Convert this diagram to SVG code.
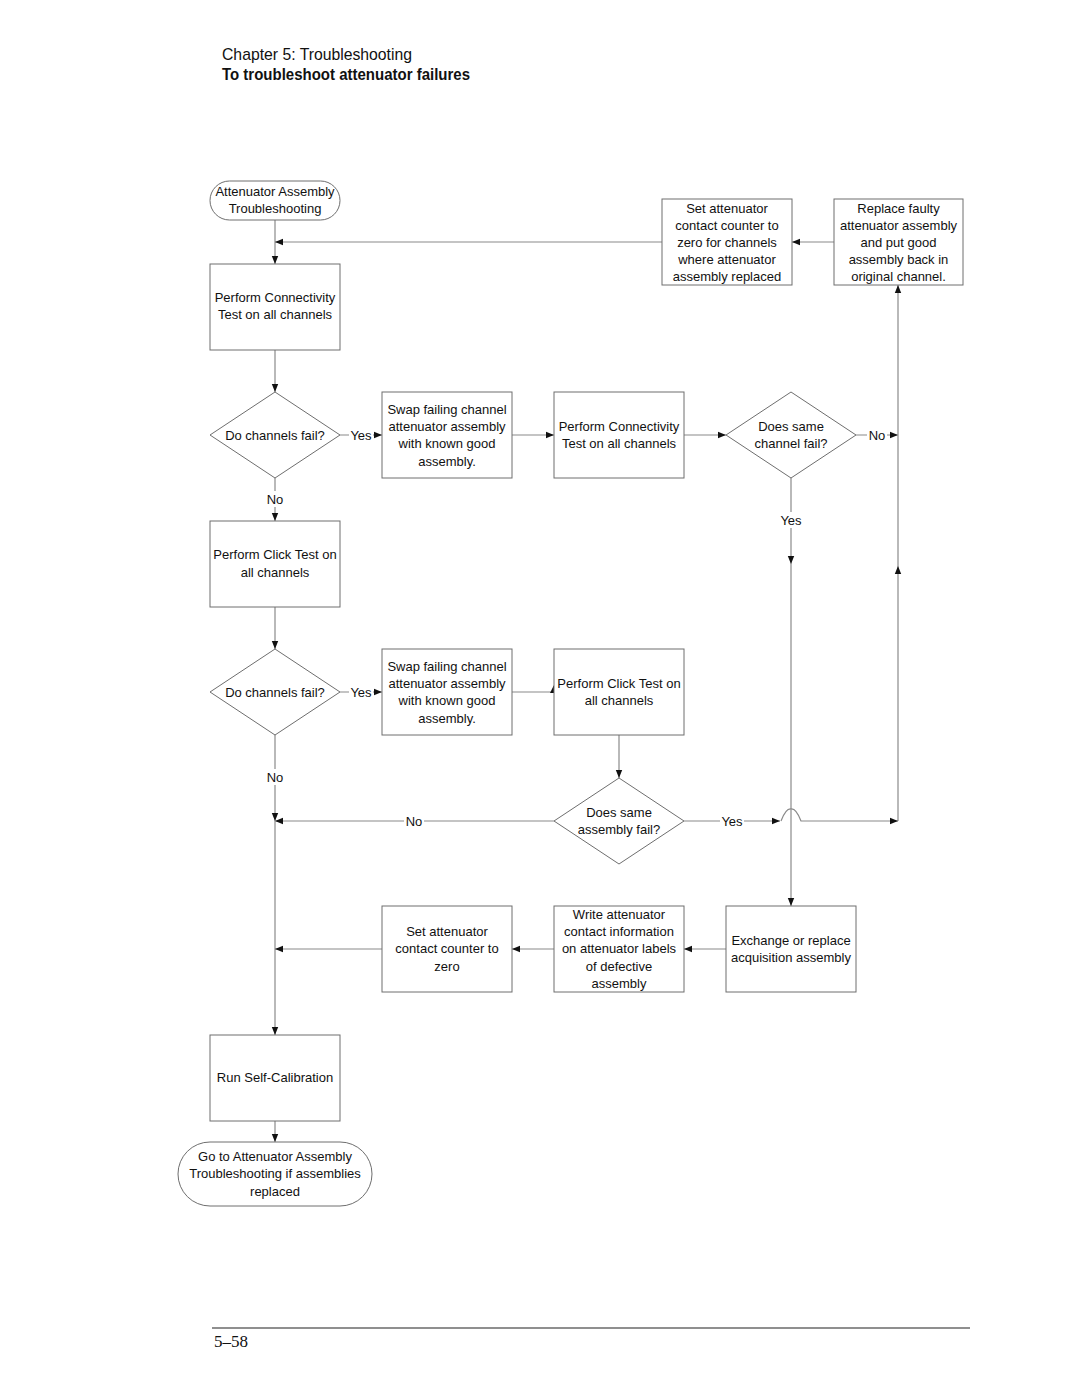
<svg xmlns="http://www.w3.org/2000/svg" width="1080" height="1397" viewBox="0 0 1080 1397">
<style>
.n{fill:#fff;stroke:#6e6e6e;stroke-width:1}
.t{font-family:"Liberation Sans",Arial,sans-serif;font-size:13px;fill:#111;text-anchor:middle}
.c{fill:none;stroke:#8a8a8a;stroke-width:1.2}
.lbl{fill:#fff;stroke:none}
.h{font-family:"Liberation Sans",Arial,sans-serif;font-size:17px;fill:#111}
</style>
<defs>
<marker id="ah" viewBox="0 0 10 10" refX="10" refY="5" markerWidth="8" markerHeight="8" markerUnits="userSpaceOnUse" orient="auto">
<path d="M0,1 L10,5 L0,9 Z" fill="#111"/>
</marker>
</defs>
<rect width="1080" height="1397" fill="#fff"/>
<g id="header">
<text class="h" x="222" y="60" textLength="190" lengthAdjust="spacingAndGlyphs">Chapter 5: Troubleshooting</text>
<text class="h" x="222" y="80" font-weight="bold" textLength="248" lengthAdjust="spacingAndGlyphs">To troubleshoot attenuator failures</text>
</g>
<g id="connectors">
<path class="c" d="M275,220 V264" marker-end="url(#ah)"/>
<path class="c" d="M662,242 H275" marker-end="url(#ah)"/>
<path class="c" d="M834,242 H792" marker-end="url(#ah)"/>
<path class="c" d="M275,350 V392" marker-end="url(#ah)"/>
<path class="c" d="M340,435 H382" marker-end="url(#ah)"/>
<path class="c" d="M512,435 H554" marker-end="url(#ah)"/>
<path class="c" d="M684,435 H726" marker-end="url(#ah)"/>
<path class="c" d="M856,435 H898" marker-end="url(#ah)"/>
<path class="c" d="M898,821 V566" marker-end="url(#ah)"/>
<path class="c" d="M898,566 V285" marker-end="url(#ah)"/>
<path class="c" d="M791,478 V564" marker-end="url(#ah)"/>
<path class="c" d="M791,564 V906" marker-end="url(#ah)"/>
<path class="c" d="M275,478 V521" marker-end="url(#ah)"/>
<path class="c" d="M275,607 V649" marker-end="url(#ah)"/>
<path class="c" d="M340,692 H382" marker-end="url(#ah)"/>
<path class="c" d="M512,692 H554 V686"/>
<path d="M550,693 L554,685 L558,693 Z" fill="#111"/>
<path class="c" d="M619,735 V778" marker-end="url(#ah)"/>
<path class="c" d="M554,821 H275" marker-end="url(#ah)"/>
<path class="c" d="M275,735 V821" marker-end="url(#ah)"/>
<path class="c" d="M275,821 V1035" marker-end="url(#ah)"/>
<path class="c" d="M684,821 H780" marker-end="url(#ah)"/>
<path class="c" d="M781,821 Q786,808 791,809 Q796,808 801,821 H898" marker-end="url(#ah)"/>
<path class="c" d="M726,949 H684" marker-end="url(#ah)"/>
<path class="c" d="M554,949 H512" marker-end="url(#ah)"/>
<path class="c" d="M382,949 H275" marker-end="url(#ah)"/>
<path class="c" d="M275,1121 V1142" marker-end="url(#ah)"/>
<rect class="lbl" x="349" y="427" width="24" height="16"/>
<text class="t" x="361" y="440">Yes</text>
<rect class="lbl" x="867" y="427" width="20" height="16"/>
<text class="t" x="877" y="440">No</text>
<rect class="lbl" x="779" y="512" width="24" height="16"/>
<text class="t" x="791" y="525">Yes</text>
<rect class="lbl" x="265" y="491" width="20" height="16"/>
<text class="t" x="275" y="504">No</text>
<rect class="lbl" x="349" y="684" width="24" height="16"/>
<text class="t" x="361" y="697">Yes</text>
<rect class="lbl" x="265" y="769" width="20" height="16"/>
<text class="t" x="275" y="782">No</text>
<rect class="lbl" x="404" y="813" width="20" height="16"/>
<text class="t" x="414" y="826">No</text>
<rect class="lbl" x="720" y="813" width="24" height="16"/>
<text class="t" x="732" y="826">Yes</text>
</g>
<g id="start">
<rect class="n" x="210" y="181" width="130" height="39" rx="19.5"/>
<text class="t" x="275" y="196">Attenuator Assembly</text>
<text class="t" x="275" y="213">Troubleshooting</text>
</g>
<g id="conn1">
<rect class="n" x="210" y="264" width="130" height="86"/>
<text class="t" x="275" y="302">Perform Connectivity</text>
<text class="t" x="275" y="319">Test on all channels</text>
</g>
<g id="d1">
<polygon class="n" points="275,392 340,435 275,478 210,435"/>
<text class="t" x="275" y="440">Do channels fail?</text>
</g>
<g id="swap1">
<rect class="n" x="382" y="392" width="130" height="86"/>
<text class="t" x="447" y="414">Swap failing channel</text>
<text class="t" x="447" y="431">attenuator assembly</text>
<text class="t" x="447" y="448">with known good</text>
<text class="t" x="447" y="466">assembly.</text>
</g>
<g id="conn2">
<rect class="n" x="554" y="392" width="130" height="86"/>
<text class="t" x="619" y="431">Perform Connectivity</text>
<text class="t" x="619" y="448">Test on all channels</text>
</g>
<g id="d2">
<polygon class="n" points="791,392 856,435 791,478 726,435"/>
<text class="t" x="791" y="431">Does same</text>
<text class="t" x="791" y="448">channel fail?</text>
</g>
<g id="setcounter1">
<rect class="n" x="662" y="199" width="130" height="86"/>
<text class="t" x="727" y="213">Set attenuator</text>
<text class="t" x="727" y="230">contact counter to</text>
<text class="t" x="727" y="247">zero for channels</text>
<text class="t" x="727" y="264">where attenuator</text>
<text class="t" x="727" y="281">assembly replaced</text>
</g>
<g id="replace">
<rect class="n" x="834" y="199" width="129" height="86"/>
<text class="t" x="898.5" y="213">Replace faulty</text>
<text class="t" x="898.5" y="230">attenuator assembly</text>
<text class="t" x="898.5" y="247">and put good</text>
<text class="t" x="898.5" y="264">assembly back in</text>
<text class="t" x="898.5" y="281">original channel.</text>
</g>
<g id="click1">
<rect class="n" x="210" y="521" width="130" height="86"/>
<text class="t" x="275" y="559">Perform Click Test on</text>
<text class="t" x="275" y="577">all channels</text>
</g>
<g id="d3">
<polygon class="n" points="275,649 340,692 275,735 210,692"/>
<text class="t" x="275" y="697">Do channels fail?</text>
</g>
<g id="swap2">
<rect class="n" x="382" y="649" width="130" height="86"/>
<text class="t" x="447" y="671">Swap failing channel</text>
<text class="t" x="447" y="688">attenuator assembly</text>
<text class="t" x="447" y="705">with known good</text>
<text class="t" x="447" y="723">assembly.</text>
</g>
<g id="click2">
<rect class="n" x="554" y="649" width="130" height="86"/>
<text class="t" x="619" y="688">Perform Click Test on</text>
<text class="t" x="619" y="705">all channels</text>
</g>
<g id="d4">
<polygon class="n" points="619,778 684,821 619,864 554,821"/>
<text class="t" x="619" y="817">Does same</text>
<text class="t" x="619" y="834">assembly fail?</text>
</g>
<g id="exchange">
<rect class="n" x="726" y="906" width="130" height="86"/>
<text class="t" x="791" y="945">Exchange or replace</text>
<text class="t" x="791" y="962">acquisition assembly</text>
</g>
<g id="write">
<rect class="n" x="554" y="906" width="130" height="86"/>
<text class="t" x="619" y="919">Write attenuator</text>
<text class="t" x="619" y="936">contact information</text>
<text class="t" x="619" y="953">on attenuator labels</text>
<text class="t" x="619" y="971">of defective</text>
<text class="t" x="619" y="988">assembly</text>
</g>
<g id="setcounter2">
<rect class="n" x="382" y="906" width="130" height="86"/>
<text class="t" x="447" y="936">Set attenuator</text>
<text class="t" x="447" y="953">contact counter to</text>
<text class="t" x="447" y="971">zero</text>
</g>
<g id="selfcal">
<rect class="n" x="210" y="1035" width="130" height="86"/>
<text class="t" x="275" y="1082">Run Self-Calibration</text>
</g>
<g id="end">
<rect class="n" x="178" y="1142" width="194" height="64" rx="32"/>
<text class="t" x="275" y="1161">Go to Attenuator Assembly</text>
<text class="t" x="275" y="1178">Troubleshooting if assemblies</text>
<text class="t" x="275" y="1196">replaced</text>
</g>
<g id="footer">
<line x1="212" y1="1328" x2="970" y2="1328" stroke="#6a6a6a" stroke-width="1.5"/>
<text x="214" y="1347" style="font-family:'Liberation Serif',serif;font-size:17px;fill:#111">5–58</text>
</g>
</svg>
